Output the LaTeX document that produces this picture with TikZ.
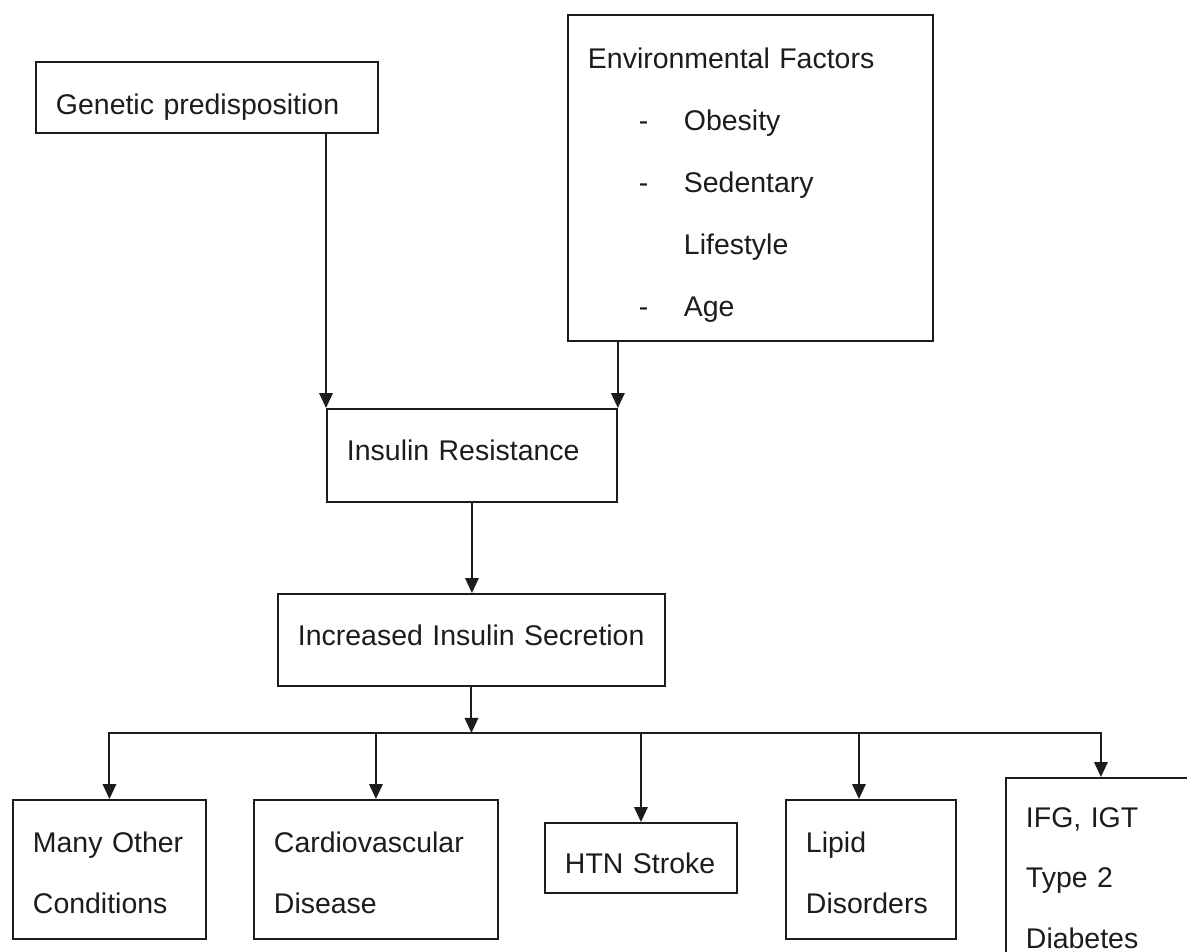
\documentclass[tikz,border=0pt]{standalone}
\usepackage{fontspec}
\setmainfont{Liberation Sans}
\usepackage{tikz}
\usetikzlibrary{positioning,arrows.meta,calc}
\definecolor{ink}{RGB}{28,28,28}
\newcommand{\flowfont}{\fontsize{16.2}{34.5}\selectfont}
\newcommand{\riskitem}[1]{\hspace*{1.02cm}\makebox[0.9cm][l]{-}#1}
% struts to sit the text where the scan has it
\newcommand{\lowtext}[1]{\rule{0pt}{#1}}
\newcommand{\hightext}[1]{\rule[-#1]{0pt}{#1}}

\begin{document}
\begin{tikzpicture}[
    x=0.02cm, y=-0.02cm,
    box/.style={rectangle, draw=ink, line width=1.1pt, anchor=north west, align=left, inner xsep=0.4cm, inner ysep=0pt, font=\flowfont, text=ink},
    arrow/.style={-{Triangle[length=3mm, width=2.7mm]}, line width=1.1pt, draw=ink}
]
\useasboundingbox (0,0) rectangle (1187,952);
\clip (0,0) rectangle (1187,952);

% Causes
\node[box, text width=6.04cm, minimum height=1.42cm] (genetic) at (35,61) {\lowtext{0.8cm}Genetic predisposition};
\node[box, text width=6.5cm, minimum height=6.52cm, font=\fontsize{16.2}{35.2}\selectfont] (env) at (567,14) {\lowtext{0.7cm}Environmental Factors\\
\riskitem{Obesity}\\
\riskitem{Sedentary}\\
\hspace*{1.92cm}Lifestyle\\
\riskitem{Age}};

% Middle chain
\node[box, text width=5cm, minimum height=1.86cm] (ir) at (326,408) {Insulin Resistance\hightext{0.2cm}};
\node[box, text width=6.94cm, minimum height=1.84cm] (iis) at (277,593) {Increased Insulin Secretion\hightext{0.2cm}};

% Outcomes
\node[box, text width=3.06cm, minimum height=2.78cm] (many) at (12,799) {\lowtext{0.54cm}Many Other\\Conditions};
\node[box, text width=4.08cm, minimum height=2.78cm] (cvd) at (253,799) {\lowtext{0.54cm}Cardiovascular\\Disease};
\node[box, text width=3.04cm, minimum height=1.4cm] (htn) at (544,822) {\lowtext{0.62cm}HTN Stroke};
\node[box, text width=2.6cm, minimum height=2.78cm] (lipid) at (785,799) {\lowtext{0.54cm}Lipid\\Disorders};
\node[box, text width=3.7cm, minimum height=4.0cm] (ifg) at (1005,777) {IFG, IGT\\Type 2\\Diabetes};

% Arrows
\draw[arrow] (genetic.south -| ir.north west) -- (ir.north west);
\draw[arrow] (env.south -| ir.north east) -- (ir.north east);
\draw[arrow] (ir.south) -- (ir.south |- iis.north);
\coordinate (split) at ([yshift=-0.92cm]iis.south);
\draw[arrow] (iis.south) -- (split);
\draw[arrow] (split) -| (many.north);
\draw[arrow] (split) -| (cvd.north);
\draw[arrow] (split) -| (htn.north);
\draw[arrow] (split) -| ([xshift=-0.24cm]lipid.north);
\draw[arrow] (split) -| ([xshift=-0.35cm]ifg.north);

\end{tikzpicture}
\end{document}
